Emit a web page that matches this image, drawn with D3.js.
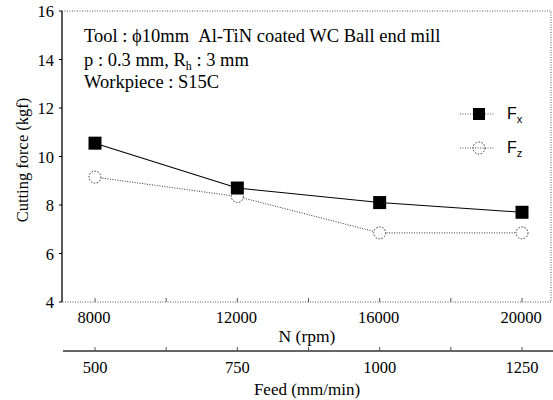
<!DOCTYPE html>
<html>
<head>
<script src="https://d3js.org/d3.v7.min.js"></script>
<style>
body { margin: 0; background: #fff; }
text { font-family: "Liberation Serif", "Times New Roman", serif; fill: #000; }
</style>
</head>
<body>
<script>
// spindle speed (rpm) and matching feed (mm/min)
var speeds = [8000, 12000, 16000, 20000];
var feeds = [500, 750, 1000, 1250];
var fx = [10.55, 8.7, 8.1, 7.7];
var fz = [9.15, 8.35, 6.85, 6.85];
var yTicks = [4, 6, 8, 10, 12, 14, 16];
var speedMinor = [10000, 14000, 18000];
var feedMinor = [625, 875, 1125];

var W = 553, H = 400;
var pl = 62, pr = 551, pt = 11, pb = 302;

var svg = d3.select("body").append("svg")
  .attr("width", W)
  .attr("height", H);

var x = d3.scaleLinear().domain([8000, 20000]).range([95, 522]);
var xf = d3.scaleLinear().domain([500, 1250]).range([95, 522]);
var y = d3.scaleLinear().domain([4, 16]).range([pb, pt]);

// frame: left solid, others dotted
svg.append("line")
  .attr("x1", pl).attr("x2", pl).attr("y1", pt).attr("y2", pb)
  .attr("stroke", "#000").attr("stroke-width", 1.3);
svg.append("path")
  .attr("d", "M" + pl + "," + pt + "H" + pr + "V" + pb + "H" + pl)
  .attr("fill", "none").attr("stroke", "#444")
  .attr("stroke-width", 0.9).attr("stroke-dasharray", "1,1.5");

// y ticks and labels
yTicks.forEach(function(t) {
  svg.append("line")
    .attr("x1", pl - 3).attr("x2", pl)
    .attr("y1", y(t)).attr("y2", y(t))
    .attr("stroke", "#000");
  svg.append("text")
    .attr("x", 54).attr("y", y(t) + 6)
    .attr("text-anchor", "end")
    .attr("font-size", 16.5)
    .text(t);
});

// bottom rpm axis ticks
speeds.concat(speedMinor).forEach(function(t) {
  svg.append("line")
    .attr("x1", x(t)).attr("x2", x(t))
    .attr("y1", pb).attr("y2", pb - 4)
    .attr("stroke", "#555");
});
speeds.forEach(function(t) {
  svg.append("text")
    .attr("x", x(t) - 1).attr("y", 323)
    .attr("text-anchor", "middle")
    .attr("font-size", 16.5)
    .text(t);
});
svg.append("text")
  .attr("x", 307).attr("y", 342)
  .attr("text-anchor", "middle")
  .attr("font-size", 17.5)
  .text("N (rpm)");

// feed axis
svg.append("line")
  .attr("x1", 63).attr("x2", 553).attr("y1", 351).attr("y2", 351)
  .attr("stroke", "#333").attr("stroke-width", 1.3);
feeds.concat(feedMinor).forEach(function(t) {
  svg.append("line")
    .attr("x1", xf(t)).attr("x2", xf(t))
    .attr("y1", 351).attr("y2", 347)
    .attr("stroke", "#555");
});
feeds.forEach(function(t) {
  svg.append("text")
    .attr("x", xf(t)).attr("y", 373)
    .attr("text-anchor", "middle")
    .attr("font-size", 16.5)
    .text(t);
});
svg.append("text")
  .attr("x", 307).attr("y", 395)
  .attr("text-anchor", "middle")
  .attr("font-size", 17)
  .text("Feed (mm/min)");

// y label
svg.append("text")
  .attr("transform", "translate(28,160) rotate(-90)")
  .attr("text-anchor", "middle")
  .attr("font-size", 16.5)
  .text("Cutting force (kgf)");

// annotation
var note = svg.append("g").attr("font-size", 18.5);
note.append("text").attr("x", 84).attr("y", 42)
  .text("Tool : \u03d510mm\u00a0\u00a0Al-TiN coated WC Ball end mill");
var p = note.append("text").attr("x", 84).attr("y", 66);
p.append("tspan").text("p : 0.3 mm, R");
p.append("tspan").attr("font-size", 12).attr("dy", 4).text("h");
p.append("tspan").attr("dy", -4).text(" : 3 mm");
note.append("text").attr("x", 84).attr("y", 88)
  .text("Workpiece : S15C");

// series lines
var line = d3.line().x(function(d, i) { return x(speeds[i]); }).y(function(d) { return y(d); });
svg.append("path").datum(fx)
  .attr("d", line)
  .attr("fill", "none").attr("stroke", "#000").attr("stroke-width", 1.1);
svg.append("path").datum(fz)
  .attr("d", line)
  .attr("fill", "none").attr("stroke", "#333").attr("stroke-width", 1)
  .attr("stroke-dasharray", "1,1.5");

// markers
svg.selectAll(".fz").data(fz).enter().append("circle")
  .attr("cx", function(d, i) { return x(speeds[i]); })
  .attr("cy", function(d) { return y(d); })
  .attr("r", 6)
  .attr("fill", "#fff").attr("stroke", "#333")
  .attr("stroke-width", 1).attr("stroke-dasharray", "1.5,1.5");
svg.selectAll(".fx").data(fx).enter().append("rect")
  .attr("x", function(d, i) { return x(speeds[i]) - 6.5; })
  .attr("y", function(d) { return y(d) - 6.5; })
  .attr("width", 13).attr("height", 13)
  .attr("fill", "#000");

// legend
var legend = [
  { name: "x", y: 114, solid: true },
  { name: "z", y: 148, solid: false }
];
legend.forEach(function(l) {
  svg.append("line")
    .attr("x1", 460).attr("x2", 495).attr("y1", l.y).attr("y2", l.y)
    .attr("stroke", "#555").attr("stroke-dasharray", "1,1.5");
  if (l.solid) {
    svg.append("rect")
      .attr("x", 473).attr("y", l.y - 6)
      .attr("width", 12).attr("height", 12).attr("fill", "#000");
  } else {
    svg.append("circle")
      .attr("cx", 479).attr("cy", l.y).attr("r", 6)
      .attr("fill", "none").attr("stroke", "#333")
      .attr("stroke-dasharray", "1.5,1.5");
  }
  var t = svg.append("text")
    .attr("x", 507).attr("y", l.y + 5)
    .style("font-family", "'Liberation Sans', Arial, sans-serif")
    .attr("font-size", 16);
  t.append("tspan").text("F");
  t.append("tspan").attr("font-size", 11).attr("dy", 4).text(l.name);
});
</script>
</body>
</html>
